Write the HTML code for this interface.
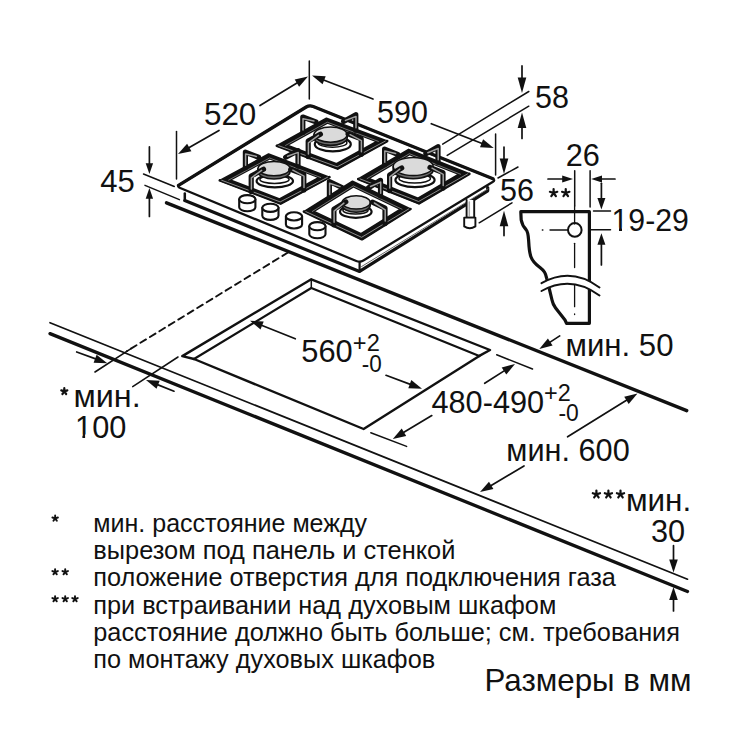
<!DOCTYPE html>
<html><head><meta charset="utf-8"><style>
html,body{margin:0;padding:0;background:#fff;width:750px;height:750px;overflow:hidden}
svg{display:block}
text{stroke:none;font-family:"Liberation Sans",sans-serif;fill:#111}
</style></head><body>
<svg width="750" height="750" viewBox="0 0 750 750" stroke="#111" stroke-linecap="round" stroke-linejoin="round">
<rect width="750" height="750" fill="#fff" stroke="none"/>
<line x1="50.0" y1="322.7" x2="687.5" y2="579.2" stroke-width="1.7" />
<line x1="50.0" y1="333.6" x2="687.5" y2="591.5" stroke-width="3.3" />
<line x1="166.5" y1="202.8" x2="686.7" y2="410.7" stroke-width="3.4" />
<polyline points="194.0,359.0 182.3,356.1 311.3,279.3 490.0,350.0 479.3,355.9" stroke-width="2.4" fill="none" />
<polyline points="194.0,359.0 311.3,288.0 479.3,355.9" stroke-width="2.2" fill="none" />
<line x1="311.3" y1="279.3" x2="311.3" y2="288.0" stroke-width="1.5" />
<polyline points="194.0,359.0 363.6,429.0 479.3,355.9" stroke-width="2.4" fill="none" />
<path d="M176.5,186.5 L184.8,193.4 L184.8,200.6 L359.6,271.4 L487.7,190.8 L487.7,187.6 L496,180 L360,262.5 Z" stroke-width="0" fill="#fff" stroke="none"/>
<line x1="184.8" y1="193.4" x2="184.8" y2="200.6" stroke-width="2.5" />
<polyline points="184.8,200.6 359.6,271.4 487.7,190.8 487.7,187.6" stroke-width="3.2" fill="none" />
<line x1="359.6" y1="262.0" x2="359.6" y2="271.4" stroke-width="2.2" />
<line x1="361.5" y1="266.6" x2="488.0" y2="188.9" stroke-width="1.0" stroke="#666"/>
<path d="M466.6,200 L466.6,217.6 L474.2,217.6 L474.2,200" stroke-width="1.9" fill="#fff" />
<line x1="469.3" y1="202.0" x2="469.3" y2="216.0" stroke-width="1.5" stroke="#aaa"/>
<path d="M464.2,217.6 L464.2,226.4 Q469.8,230 475.4,226.4 L475.4,217.6 Z" stroke-width="1.9" fill="#fff" />
<path d="M180.2,188.0 Q176.5,186.5 179.9,184.4 L306.1,107.1 Q309.5,105.0 313.2,106.5 L492.3,178.5 Q496.0,180.0 492.6,182.1 L363.4,260.4 Q360.0,262.5 356.3,261.0 Z" stroke-width="2.3" fill="#fff" />
<path d="M178.5,185.3 L306.2,107 Q309.5,105 313.2,106.5 L493,178.8" stroke-width="3.3" fill="none" />
<path d="M239.2,199.2 L239.2,207.2 A8.1,4.1 0 0 0 255.4,207.2 L255.4,199.2" stroke-width="2.1" fill="#fff" />
<ellipse cx="247.3" cy="199.2" rx="8.1" ry="4.1" stroke-width="2.1" fill="#fff"/>
<path d="M262.3,207.8 L262.3,215.8 A8.1,4.1 0 0 0 278.5,215.8 L278.5,207.8" stroke-width="2.1" fill="#fff" />
<ellipse cx="270.4" cy="207.8" rx="8.1" ry="4.1" stroke-width="2.1" fill="#fff"/>
<path d="M285.9,216.4 L285.9,224.4 A8.1,4.1 0 0 0 302.1,224.4 L302.1,216.4" stroke-width="2.1" fill="#fff" />
<ellipse cx="294.0" cy="216.4" rx="8.1" ry="4.1" stroke-width="2.1" fill="#fff"/>
<path d="M309.3,226.2 L309.3,234.2 A8.1,4.1 0 0 0 325.5,234.2 L325.5,226.2" stroke-width="2.1" fill="#fff" />
<ellipse cx="317.4" cy="226.2" rx="8.1" ry="4.1" stroke-width="2.1" fill="#fff"/>
<path d="M276.8,145.8 L337.6,168.6 L387.2,141.0 L326.4,118.2 Z M287.3,145.3 L327.5,123.0 L376.7,141.5 L336.5,163.8 Z" stroke-width="1.6" fill="#111" fill-rule="evenodd"/>
<polyline points="276.8,145.8 337.6,168.6 387.2,141.0" stroke-width="2.6" fill="none" />
<polyline points="278.7,145.7 337.2,166.8 385.3,141.1" stroke-width="0.9" fill="none" stroke="#9a9a9a"/>
<polyline points="285.6,145.4 327.3,122.2 378.4,141.4" stroke-width="0.8" fill="none" stroke="#8a8a8a"/>
<polyline points="302.8,132.5 302.8,117.0 315.9,121.9" stroke-width="5.2" fill="none" />
<polyline points="303.0,130.0 303.0,118.8 313.9,121.1" stroke-width="1.5" fill="none" stroke="#a0a0a0"/>
<polyline points="355.8,130.2 355.8,114.7 343.6,121.5" stroke-width="5.2" fill="none" />
<polyline points="356.0,127.7 356.0,116.5 345.5,120.4" stroke-width="1.5" fill="none" stroke="#a0a0a0"/>
<ellipse cx="332.8" cy="144.2" rx="18.0" ry="7.2" stroke-width="2.2" fill="#fff"/>
<ellipse cx="332.5" cy="142.7" rx="14.4" ry="4.5" stroke-width="1.5" fill="#fff"/>
<path d="M314.0,134.6 L314.0,137.8 A16.6,7.6 0 0 0 347.2,137.8 L347.2,134.6" stroke-width="1.6" fill="#6a6a6a" />
<ellipse cx="330.6" cy="134.6" rx="16.6" ry="7.6" stroke-width="1.5" fill="#dadada"/>
<polyline points="308.2,156.6 308.2,141.1 320.4,134.3" stroke-width="5.2" fill="none" />
<polyline points="308.4,154.1 308.4,142.9 318.5,135.4" stroke-width="1.5" fill="none" stroke="#a0a0a0"/>
<polyline points="361.2,154.3 361.2,138.8 348.1,133.9" stroke-width="5.2" fill="none" />
<polyline points="361.4,151.8 361.4,140.6 350.1,134.7" stroke-width="1.5" fill="none" stroke="#a0a0a0"/>
<path d="M219.8,180.4 L280.6,203.6 L329.4,177.2 L268.6,154.0 Z M230.2,180.1 L269.7,158.7 L319.0,177.5 L279.5,198.9 Z" stroke-width="1.6" fill="#111" fill-rule="evenodd"/>
<polyline points="219.8,180.4 280.6,203.6 329.4,177.2" stroke-width="2.6" fill="none" />
<polyline points="221.7,180.3 280.2,201.9 327.5,177.3" stroke-width="0.9" fill="none" stroke="#9a9a9a"/>
<polyline points="228.6,180.1 269.6,158.0 320.6,177.5" stroke-width="0.8" fill="none" stroke="#8a8a8a"/>
<polyline points="245.4,167.7 245.4,152.2 258.5,157.2" stroke-width="5.2" fill="none" />
<polyline points="245.6,165.2 245.6,154.0 256.4,156.4" stroke-width="1.5" fill="none" stroke="#a0a0a0"/>
<polyline points="298.0,166.1 298.0,150.6 285.7,157.3" stroke-width="5.2" fill="none" />
<polyline points="298.2,163.6 298.2,152.4 287.6,156.2" stroke-width="1.5" fill="none" stroke="#a0a0a0"/>
<ellipse cx="274.8" cy="181.0" rx="18.2" ry="6.4" stroke-width="2.2" fill="#fff"/>
<ellipse cx="274.5" cy="179.5" rx="14.6" ry="4.0" stroke-width="1.5" fill="#fff"/>
<path d="M258.0,168.6 L258.0,171.8 A16,7.2 0 0 0 290.0,171.8 L290.0,168.6" stroke-width="1.6" fill="#6a6a6a" />
<ellipse cx="274.0" cy="168.6" rx="16" ry="7.2" stroke-width="1.5" fill="#dadada"/>
<polyline points="251.2,191.5 251.2,176.0 263.5,169.3" stroke-width="5.2" fill="none" />
<polyline points="251.4,189.0 251.4,177.8 261.6,170.4" stroke-width="1.5" fill="none" stroke="#a0a0a0"/>
<polyline points="303.8,189.9 303.8,174.4 290.7,169.4" stroke-width="5.2" fill="none" />
<polyline points="304.0,187.4 304.0,176.2 292.8,170.2" stroke-width="1.5" fill="none" stroke="#a0a0a0"/>
<path d="M358.2,179.0 L419.0,203.4 L469.4,173.8 L408.6,149.4 Z M368.8,178.5 L409.6,154.5 L458.8,174.3 L418.0,198.3 Z" stroke-width="1.6" fill="#111" fill-rule="evenodd"/>
<polyline points="358.2,179.0 419.0,203.4 469.4,173.8" stroke-width="2.6" fill="none" />
<polyline points="360.1,178.9 418.6,201.5 467.5,173.9" stroke-width="0.9" fill="none" stroke="#9a9a9a"/>
<polyline points="367.1,178.6 409.4,153.7 460.5,174.2" stroke-width="0.8" fill="none" stroke="#8a8a8a"/>
<polyline points="384.6,164.7 384.6,149.2 397.6,154.4" stroke-width="5.2" fill="none" />
<polyline points="384.8,162.2 384.8,151.0 395.6,153.6" stroke-width="1.5" fill="none" stroke="#a0a0a0"/>
<polyline points="438.0,162.2 438.0,146.7 425.9,153.8" stroke-width="5.2" fill="none" />
<polyline points="438.2,159.7 438.2,148.5 427.8,152.7" stroke-width="1.5" fill="none" stroke="#a0a0a0"/>
<ellipse cx="415.0" cy="180.0" rx="19.6" ry="7.2" stroke-width="2.2" fill="#fff"/>
<ellipse cx="414.7" cy="178.5" rx="15.7" ry="4.5" stroke-width="1.5" fill="#fff"/>
<path d="M393.2,166.5 L393.2,169.7 A20,9 0 0 0 433.2,169.7 L433.2,166.5" stroke-width="1.6" fill="#6a6a6a" />
<ellipse cx="413.2" cy="166.5" rx="20" ry="9" stroke-width="1.5" fill="#dadada"/>
<polyline points="389.6,190.6 389.6,175.1 401.7,168.0" stroke-width="5.2" fill="none" />
<polyline points="389.8,188.1 389.8,176.9 399.8,169.1" stroke-width="1.5" fill="none" stroke="#a0a0a0"/>
<polyline points="443.0,188.1 443.0,172.6 430.0,167.4" stroke-width="5.2" fill="none" />
<polyline points="443.2,185.6 443.2,174.4 432.0,168.2" stroke-width="1.5" fill="none" stroke="#a0a0a0"/>
<path d="M303.9,211.6 L361.9,239.3 L410.5,209.0 L352.5,181.3 Z M314.0,211.4 L353.4,186.8 L400.4,209.2 L361.0,233.8 Z" stroke-width="1.6" fill="#111" fill-rule="evenodd"/>
<polyline points="303.9,211.6 361.9,239.3 410.5,209.0" stroke-width="2.6" fill="none" />
<polyline points="305.8,211.6 361.6,237.3 408.6,209.0" stroke-width="0.9" fill="none" stroke="#9a9a9a"/>
<polyline points="312.4,211.4 353.3,185.9 402.0,209.2" stroke-width="0.8" fill="none" stroke="#8a8a8a"/>
<polyline points="329.4,197.0 329.4,181.5 342.0,187.5" stroke-width="5.2" fill="none" />
<polyline points="329.6,194.5 329.6,183.3 340.0,186.6" stroke-width="1.5" fill="none" stroke="#a0a0a0"/>
<polyline points="380.5,195.8 380.5,180.3 368.6,187.7" stroke-width="5.2" fill="none" />
<polyline points="380.7,193.3 380.7,182.1 370.5,186.5" stroke-width="1.5" fill="none" stroke="#a0a0a0"/>
<ellipse cx="355.8" cy="211.8" rx="15.8" ry="6.0" stroke-width="2.2" fill="#fff"/>
<ellipse cx="355.5" cy="210.3" rx="12.6" ry="3.7" stroke-width="1.5" fill="#fff"/>
<path d="M342.2,202.4 L342.2,205.6 A14,6.6 0 0 0 370.2,205.6 L370.2,202.4" stroke-width="1.6" fill="#6a6a6a" />
<ellipse cx="356.2" cy="202.4" rx="14" ry="6.6" stroke-width="1.5" fill="#dadada"/>
<polyline points="333.9,224.8 333.9,209.3 345.8,201.9" stroke-width="5.2" fill="none" />
<polyline points="334.1,222.3 334.1,211.1 343.9,203.1" stroke-width="1.5" fill="none" stroke="#a0a0a0"/>
<polyline points="385.0,223.6 385.0,208.1 372.4,202.1" stroke-width="5.2" fill="none" />
<polyline points="385.2,221.1 385.2,209.9 374.4,203.0" stroke-width="1.5" fill="none" stroke="#a0a0a0"/>
<line x1="143.5" y1="174.0" x2="174.3" y2="186.5" stroke-width="1.5" />
<line x1="145.0" y1="185.4" x2="179.4" y2="199.6" stroke-width="1.5" />
<line x1="149.4" y1="146.9" x2="149.4" y2="165.2" stroke-width="1.7" />
<polygon points="149.4,174.0 145.7,163.2 153.1,163.2" fill="#111" stroke="none"/>
<line x1="149.4" y1="216.5" x2="149.4" y2="196.8" stroke-width="1.7" />
<polygon points="149.4,188.0 153.1,198.8 145.7,198.8" fill="#111" stroke="none"/>
<line x1="176.5" y1="131.5" x2="176.5" y2="179.0" stroke-width="1.5" />
<line x1="219.0" y1="130.4" x2="187.5" y2="148.5" stroke-width="1.7" />
<polygon points="178.0,154.0 187.1,143.8 191.4,151.2" fill="#111" stroke="none"/>
<line x1="260.0" y1="105.6" x2="298.6" y2="82.1" stroke-width="1.7" />
<polygon points="308.0,76.4 299.1,86.8 294.7,79.5" fill="#111" stroke="none"/>
<line x1="309.3" y1="61.0" x2="309.3" y2="99.0" stroke-width="1.5" />
<line x1="373.0" y1="99.0" x2="322.3" y2="79.5" stroke-width="1.7" />
<polygon points="312.0,75.5 325.7,76.2 322.6,84.2" fill="#111" stroke="none"/>
<line x1="431.3" y1="123.7" x2="483.4" y2="144.0" stroke-width="1.7" />
<polygon points="493.7,148.0 480.0,147.3 483.1,139.3" fill="#111" stroke="none"/>
<line x1="495.6" y1="134.0" x2="495.6" y2="175.0" stroke-width="1.5" />
<line x1="442.7" y1="144.1" x2="528.8" y2="91.5" stroke-width="1.5" />
<line x1="447.2" y1="155.4" x2="528.8" y2="106.2" stroke-width="1.5" />
<line x1="522.0" y1="65.9" x2="522.0" y2="79.5" stroke-width="1.7" />
<polygon points="522.0,93.0 517.7,77.5 526.3,77.5" fill="#111" stroke="none"/>
<line x1="522.0" y1="138.4" x2="522.0" y2="125.9" stroke-width="1.7" />
<polygon points="522.0,112.4 526.3,127.9 517.7,127.9" fill="#111" stroke="none"/>
<line x1="498.0" y1="178.0" x2="518.0" y2="167.0" stroke-width="1.5" />
<line x1="479.2" y1="222.8" x2="512.0" y2="202.8" stroke-width="1.5" />
<line x1="504.0" y1="147.0" x2="504.0" y2="160.5" stroke-width="1.7" />
<polygon points="504.0,174.0 499.7,158.5 508.3,158.5" fill="#111" stroke="none"/>
<line x1="504.0" y1="235.6" x2="504.0" y2="224.3" stroke-width="1.7" />
<polygon points="504.0,210.8 508.3,226.3 499.7,226.3" fill="#111" stroke="none"/>
<line x1="288.0" y1="252.5" x2="127.0" y2="351.0" stroke-width="1.9" stroke-dasharray="6.5,4.6"/>
<line x1="131.0" y1="348.6" x2="95.0" y2="372.0" stroke-width="1.6" />
<line x1="178.0" y1="357.0" x2="132.7" y2="386.7" stroke-width="1.5" />
<line x1="76.7" y1="352.0" x2="97.0" y2="359.4" stroke-width="1.7" />
<polygon points="107.3,363.2 93.6,362.8 96.6,354.7" fill="#111" stroke="none"/>
<line x1="174.0" y1="391.2" x2="156.2" y2="384.1" stroke-width="1.7" />
<polygon points="146.0,380.0 159.7,380.8 156.5,388.8" fill="#111" stroke="none"/>
<line x1="295.3" y1="338.8" x2="260.2" y2="324.8" stroke-width="1.7" />
<polygon points="250.0,320.7 263.7,321.5 260.5,329.5" fill="#111" stroke="none"/>
<line x1="386.0" y1="375.3" x2="411.7" y2="384.9" stroke-width="1.7" />
<polygon points="422.0,388.7 408.3,388.2 411.3,380.1" fill="#111" stroke="none"/>
<line x1="496.7" y1="354.8" x2="532.5" y2="369.0" stroke-width="1.5" />
<line x1="370.8" y1="432.8" x2="406.6" y2="446.4" stroke-width="1.5" />
<line x1="484.7" y1="383.3" x2="505.7" y2="369.9" stroke-width="1.7" />
<polygon points="515.0,364.0 506.3,374.6 501.7,367.4" fill="#111" stroke="none"/>
<line x1="431.8" y1="415.6" x2="402.2" y2="433.3" stroke-width="1.7" />
<polygon points="392.8,439.0 401.7,428.6 406.2,436.0" fill="#111" stroke="none"/>
<line x1="559.7" y1="335.9" x2="548.6" y2="343.1" stroke-width="1.7" />
<polygon points="539.3,349.0 547.9,338.4 552.6,345.6" fill="#111" stroke="none"/>
<line x1="567.6" y1="436.8" x2="628.1" y2="399.3" stroke-width="1.7" />
<polygon points="637.5,393.5 628.7,404.0 624.2,396.7" fill="#111" stroke="none"/>
<line x1="524.0" y1="466.0" x2="489.5" y2="486.4" stroke-width="1.7" />
<polygon points="480.0,492.0 489.0,481.7 493.4,489.1" fill="#111" stroke="none"/>
<line x1="673.5" y1="545.7" x2="673.5" y2="561.5" stroke-width="1.7" />
<polygon points="673.5,572.5 669.2,559.5 677.8,559.5" fill="#111" stroke="none"/>
<line x1="673.5" y1="611.0" x2="673.5" y2="598.0" stroke-width="1.7" />
<polygon points="673.5,587.0 677.8,600.0 669.2,600.0" fill="#111" stroke="none"/>
<line x1="574.7" y1="170.8" x2="574.7" y2="206.0" stroke-width="1.5" />
<line x1="590.1" y1="170.8" x2="590.1" y2="207.0" stroke-width="1.5" />
<line x1="548.0" y1="179.0" x2="564.2" y2="179.0" stroke-width="1.7" />
<polygon points="573.0,179.0 562.2,182.6 562.2,175.4" fill="#111" stroke="none"/>
<line x1="615.0" y1="179.0" x2="600.0" y2="179.0" stroke-width="1.7" />
<polygon points="591.2,179.0 602.0,175.4 602.0,182.6" fill="#111" stroke="none"/>
<line x1="601.4" y1="183.3" x2="601.4" y2="200.1" stroke-width="1.7" />
<polygon points="601.4,209.6 597.4,198.1 605.4,198.1" fill="#111" stroke="none"/>
<line x1="601.4" y1="265.0" x2="601.4" y2="242.7" stroke-width="1.7" />
<polygon points="601.4,233.2 605.4,244.7 597.4,244.7" fill="#111" stroke="none"/>
<line x1="593.5" y1="211.0" x2="610.5" y2="211.0" stroke-width="1.5" />
<line x1="591.2" y1="229.8" x2="610.5" y2="229.8" stroke-width="1.5" />
<path d="M520.8,211.7 L589.4,211.7 L589.4,323.3 L566.5,323.3 L565,320 L555.8,308.3 C553.5,305 552.5,303 552,300 L549.2,288.3 L546.7,278.3 C545.5,273 544.5,271 540,267.5 C536,264.5 533,262.5 531,257 C529.5,253 529,248 528.7,241.7 C528.3,236 528.3,232 526,229.5 C523.5,227 522,224 521.2,220 Z" stroke-width="3.2" fill="#fff" />
<path d="M541,284 Q571,266 600,287.5 L600,296 Q571,274 541,292 Z" stroke-width="0" fill="#fff" stroke="none"/>
<path d="M541.5,283.2 Q571,266.5 599.5,287.5" stroke-width="2.0" fill="none" />
<path d="M541.5,291 Q571,274.5 599.5,295.5" stroke-width="2.0" fill="none" />
<line x1="574.6" y1="206.0" x2="574.6" y2="224.0" stroke-width="1.3" />
<line x1="574.6" y1="243.3" x2="574.6" y2="267.5" stroke-width="1.3" />
<line x1="574.6" y1="285.0" x2="574.6" y2="306.7" stroke-width="1.3" />
<line x1="574.6" y1="314.0" x2="574.6" y2="314.6" stroke-width="1.3" />
<line x1="542.3" y1="230.0" x2="542.9" y2="230.0" stroke-width="1.3" />
<line x1="550.0" y1="230.0" x2="568.0" y2="230.0" stroke-width="1.3" />
<circle cx="574.8" cy="229.9" r="6.8" stroke-width="2" fill="none"/>
<text transform="translate(203.94,125.20) scale(1.0295,1)" font-size="30.5">520</text>
<text x="377.08" y="123.40" font-size="30.5">590</text>
<text x="535.08" y="108.30" font-size="30.5">58</text>
<text transform="translate(100.18,191.60) scale(1.0182,1)" font-size="30.5">45</text>
<text transform="translate(565.67,166.20) scale(1.0065,1)" font-size="30.5">26</text>
<text x="500.08" y="200.60" font-size="30.5">56</text>
<text transform="translate(611.59,230.60) scale(0.9897,1)" font-size="30.5">19-29</text>
<text transform="translate(301.27,362.20) scale(1.0110,1)" font-size="30.5">560</text>
<text transform="translate(352.86,350.70) scale(1.0272,1)" font-size="23">+2</text>
<text transform="translate(361.70,372.40) scale(0.9787,1)" font-size="23">-0</text>
<text transform="translate(565.53,355.60) scale(1.0215,1)" font-size="30.5">мин. 50</text>
<text transform="translate(73.46,407.40) scale(1.0610,1)" font-size="30.5">мин.</text>
<text transform="translate(75.05,437.80) scale(1.0073,1)" font-size="30.5">100</text>
<text transform="translate(431.49,413.20) scale(1.0062,1)" font-size="30.5">480-490</text>
<text transform="translate(544.06,401.00) scale(0.9765,1)" font-size="24">+2</text>
<text transform="translate(558.48,421.40) scale(0.9533,1)" font-size="24">-0</text>
<text transform="translate(506.36,461.00) scale(1.0054,1)" font-size="30.5">мин. 600</text>
<text transform="translate(625.91,511.20) scale(1.0321,1)" font-size="30.5">мин.</text>
<text transform="translate(650.98,542.40) scale(1.0060,1)" font-size="30.5">30</text>
<rect x="613" y="227.5" width="6.0" height="4.0" fill="#fff" stroke="none"/>
<rect x="622" y="227.5" width="5.5" height="4.0" fill="#fff" stroke="none"/>
<rect x="76" y="434.5" width="6.4" height="4.0" fill="#fff" stroke="none"/>
<rect x="85.1" y="434.5" width="6.1" height="4.0" fill="#fff" stroke="none"/>
<path d="M64.30,391.40 L64.30,388.20 M64.30,391.40 L67.34,390.41 M64.30,391.40 L66.18,393.99 M64.30,391.40 L62.42,393.99 M64.30,391.40 L61.26,390.41 " stroke-width="2.2" fill="none" stroke-linecap="round"/>
<path d="M596.40,494.40 L596.40,490.60 M596.40,494.40 L600.01,493.23 M596.40,494.40 L598.63,497.47 M596.40,494.40 L594.17,497.47 M596.40,494.40 L592.79,493.23 " stroke-width="2.2" fill="none" stroke-linecap="round"/>
<path d="M608.40,494.40 L608.40,490.60 M608.40,494.40 L612.01,493.23 M608.40,494.40 L610.63,497.47 M608.40,494.40 L606.17,497.47 M608.40,494.40 L604.79,493.23 " stroke-width="2.2" fill="none" stroke-linecap="round"/>
<path d="M620.50,494.40 L620.50,490.60 M620.50,494.40 L624.11,493.23 M620.50,494.40 L622.73,497.47 M620.50,494.40 L618.27,497.47 M620.50,494.40 L616.89,493.23 " stroke-width="2.2" fill="none" stroke-linecap="round"/>
<path d="M553.60,193.00 L553.60,189.10 M553.60,193.00 L557.31,191.79 M553.60,193.00 L555.89,196.16 M553.60,193.00 L551.31,196.16 M553.60,193.00 L549.89,191.79 " stroke-width="2.2" fill="none" stroke-linecap="round"/>
<path d="M565.75,193.00 L565.75,189.10 M565.75,193.00 L569.46,191.79 M565.75,193.00 L568.04,196.16 M565.75,193.00 L563.46,196.16 M565.75,193.00 L562.04,191.79 " stroke-width="2.2" fill="none" stroke-linecap="round"/>
<text transform="translate(93.30,532.00) scale(0.9899,1)" font-size="25.3">мин. расстояние между</text>
<text transform="translate(93.27,559.20) scale(1.0047,1)" font-size="25.3">вырезом под панель и стенкой</text>
<text x="93.28" y="586.40" font-size="25.3">положение отверстия для подключения газа</text>
<text x="93.28" y="613.60" font-size="25.3">при встраивании над духовым шкафом</text>
<text x="93.28" y="640.80" font-size="25.3">расстояние должно быть больше; см. требования</text>
<text x="93.28" y="668.00" font-size="25.3">по монтажу духовых шкафов</text>
<path d="M55.15,518.40 L55.15,515.50 M55.15,518.40 L57.91,517.50 M55.15,518.40 L56.85,520.75 M55.15,518.40 L53.45,520.75 M55.15,518.40 L52.39,517.50 " stroke-width="1.9" fill="none" stroke-linecap="round"/>
<path d="M55.10,572.00 L55.10,569.10 M55.10,572.00 L57.86,571.10 M55.10,572.00 L56.80,574.35 M55.10,572.00 L53.40,574.35 M55.10,572.00 L52.34,571.10 " stroke-width="1.9" fill="none" stroke-linecap="round"/>
<path d="M65.20,572.00 L65.20,569.10 M65.20,572.00 L67.96,571.10 M65.20,572.00 L66.90,574.35 M65.20,572.00 L63.50,574.35 M65.20,572.00 L62.44,571.10 " stroke-width="1.9" fill="none" stroke-linecap="round"/>
<path d="M55.10,599.00 L55.10,596.10 M55.10,599.00 L57.86,598.10 M55.10,599.00 L56.80,601.35 M55.10,599.00 L53.40,601.35 M55.10,599.00 L52.34,598.10 " stroke-width="1.9" fill="none" stroke-linecap="round"/>
<path d="M65.20,599.00 L65.20,596.10 M65.20,599.00 L67.96,598.10 M65.20,599.00 L66.90,601.35 M65.20,599.00 L63.50,601.35 M65.20,599.00 L62.44,598.10 " stroke-width="1.9" fill="none" stroke-linecap="round"/>
<path d="M75.00,599.00 L75.00,596.10 M75.00,599.00 L77.76,598.10 M75.00,599.00 L76.70,601.35 M75.00,599.00 L73.30,601.35 M75.00,599.00 L72.24,598.10 " stroke-width="1.9" fill="none" stroke-linecap="round"/>
<text x="484.50" y="691.40" font-size="31.3">Размеры в мм</text>
</svg></body></html>
